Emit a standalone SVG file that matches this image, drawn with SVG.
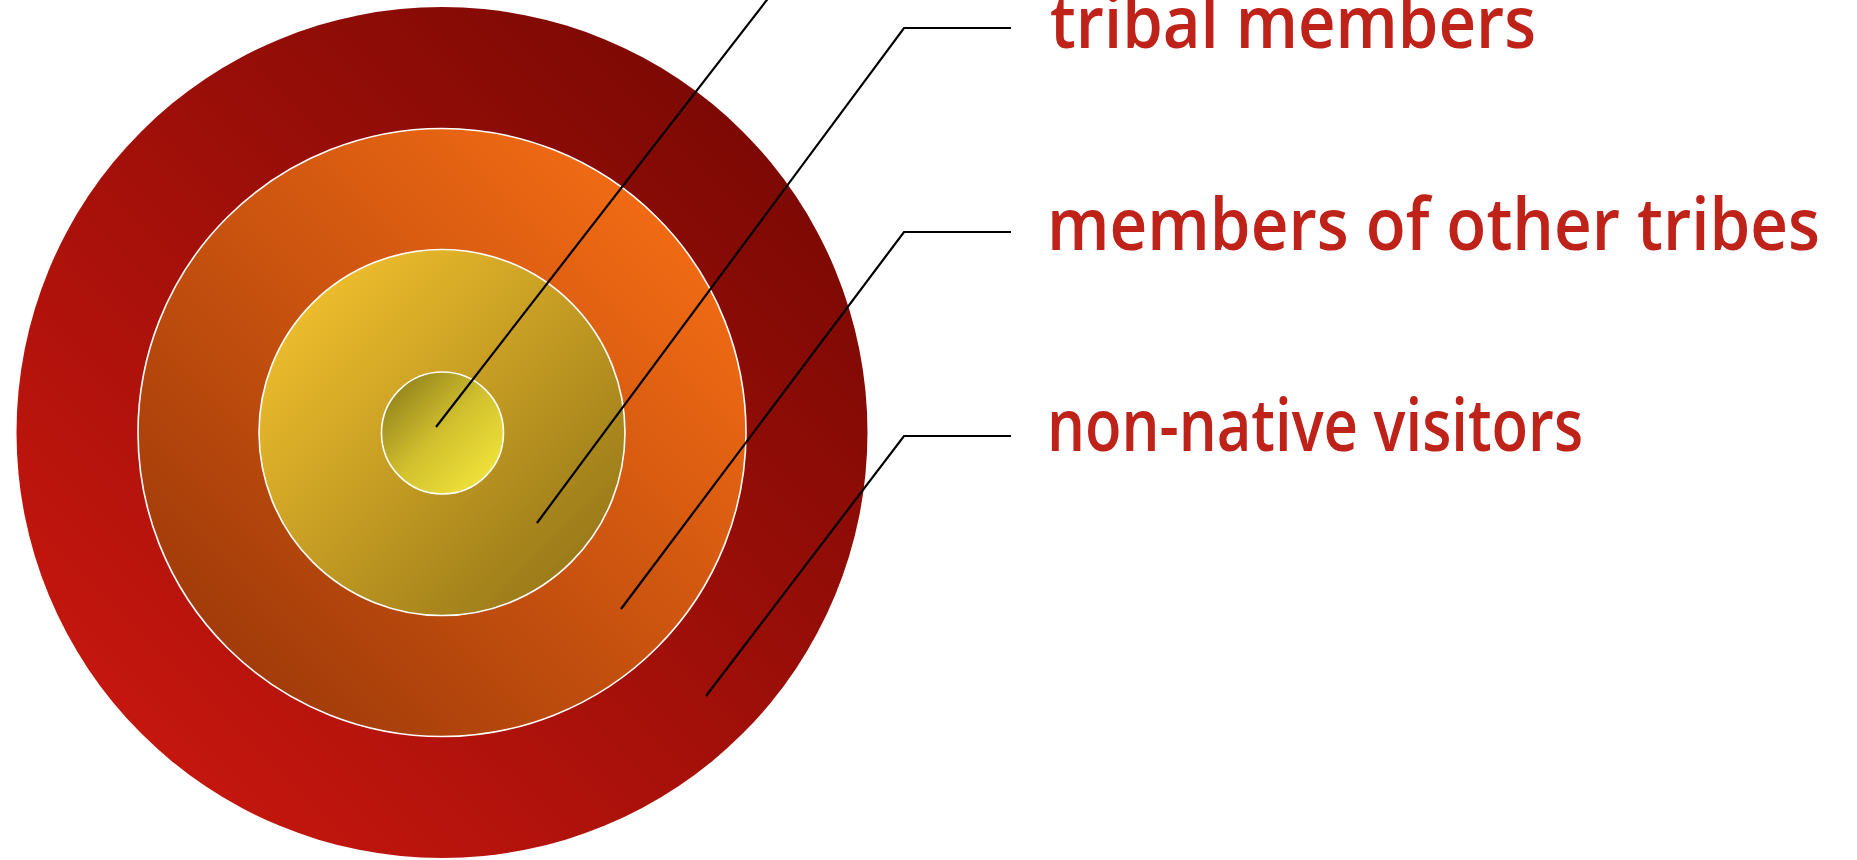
<svg xmlns="http://www.w3.org/2000/svg" width="1857" height="860" viewBox="0 0 1857 860">
  <defs>
    <linearGradient id="gOuter" x1="0.85" y1="0.15" x2="0.15" y2="0.85">
      <stop offset="0" stop-color="#7e0904"/>
      <stop offset="1" stop-color="#c3160e"/>
    </linearGradient>
    <linearGradient id="gRing2" x1="0.85" y1="0.15" x2="0.15" y2="0.85">
      <stop offset="0" stop-color="#f06a14"/>
      <stop offset="1" stop-color="#a33c0a"/>
    </linearGradient>
    <linearGradient id="gRing3" x1="0.15" y1="0.15" x2="0.85" y2="0.85">
      <stop offset="0" stop-color="#ebbb2c"/>
      <stop offset="1" stop-color="#9c7c1a"/>
    </linearGradient>
    <linearGradient id="gCore" x1="0.15" y1="0.15" x2="0.85" y2="0.85">
      <stop offset="0" stop-color="#9a8a1e"/>
      <stop offset="0.5" stop-color="#d2c12e"/>
      <stop offset="1" stop-color="#eee03a"/>
    </linearGradient>
  </defs>
  <style>
    .ring { stroke: #ffffff; stroke-width: 1.6; }
    .lead { fill: none; stroke: #000000; stroke-width: 2.2; stroke-linejoin: miter; }
    .label { font-family: "Open Sans", "Noto Sans", "Liberation Sans", sans-serif; font-weight: 600; font-size: 73px; fill: #bf2219; }
  </style>
  <rect width="1857" height="860" fill="#ffffff"/>
  <g id="outer-circle">
    <circle cx="442" cy="432.5" r="425.5" fill="url(#gOuter)"/>
  </g>
  <g id="ring-other-tribes">
    <circle class="ring" cx="442" cy="432.5" r="304" fill="url(#gRing2)"/>
  </g>
  <g id="ring-tribal">
    <circle class="ring" cx="442" cy="432.5" r="183" fill="url(#gRing3)"/>
  </g>
  <g id="core">
    <circle class="ring" cx="442.5" cy="433" r="61" fill="url(#gCore)"/>
  </g>
  <g id="connectors">
    <polyline class="lead" points="436,427 904,-177 1011,-177"/>
    <polyline class="lead" points="537,523 904,28 1011,28"/>
    <polyline class="lead" points="621,609 904,232 1011,232"/>
    <polyline class="lead" points="706,696 904,436 1011,436"/>
  </g>
  <g id="label-tribal-members">
    <text class="label" x="1050" y="48" textLength="486" lengthAdjust="spacingAndGlyphs">tribal members</text>
  </g>
  <g id="label-other-tribes">
    <text class="label" x="1047" y="250" textLength="773" lengthAdjust="spacingAndGlyphs">members of other tribes</text>
  </g>
  <g id="label-non-native">
    <text class="label" x="1047" y="451" textLength="536" lengthAdjust="spacingAndGlyphs">non-native visitors</text>
  </g>
</svg>
